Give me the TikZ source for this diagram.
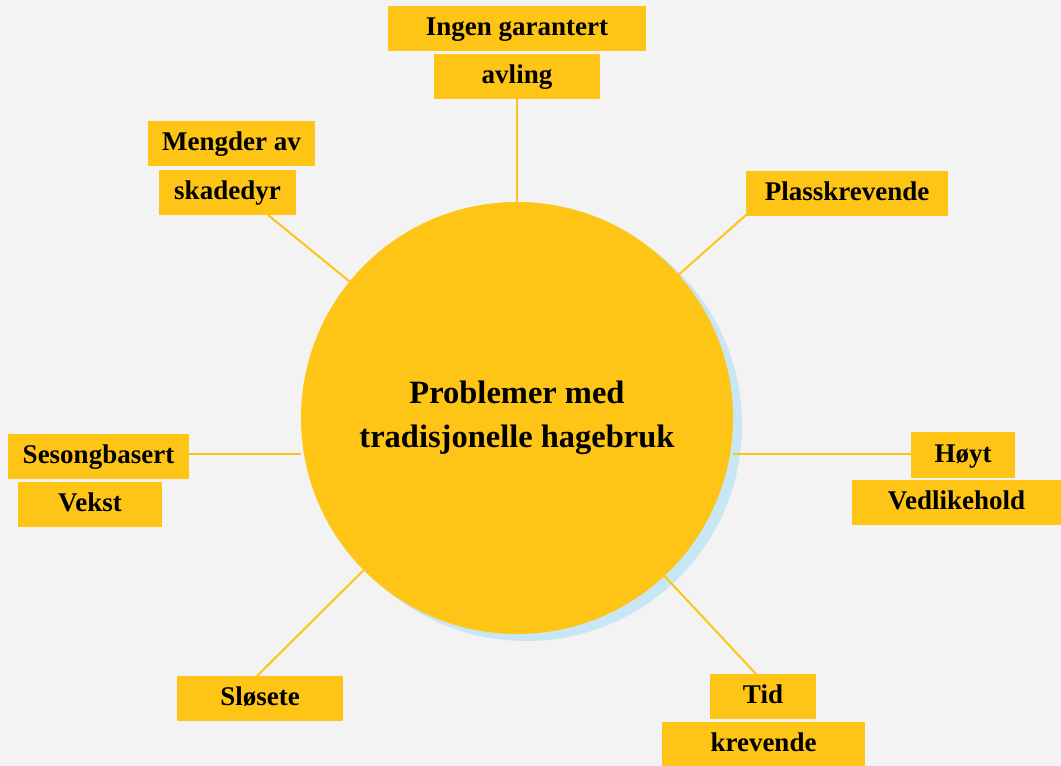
\documentclass[tikz,border=0pt]{standalone}
\usepackage{fontspec}
\setmainfont{Liberation Serif}
\definecolor{bg}{RGB}{242,243,242}
\definecolor{gold}{RGB}{254,196,22}
\definecolor{skyshadow}{RGB}{201,230,245}
\begin{document}
\begin{tikzpicture}[x=1pt,y=-1pt,
  lbl/.style={fill=gold, inner sep=0pt, text=black,
    font=\bfseries\fontsize{27}{30}\selectfont,
    text height=19pt, text depth=5pt, minimum height=45pt},
  link/.style={draw=gold, line width=2pt},
  hub/.style={circle, fill=gold, inner sep=0pt, minimum size=432pt,
    align=center, text=black, font=\bfseries\fontsize{32.5}{44}\selectfont}]
\fill[bg] (0,0) rectangle (1061,766);
\useasboundingbox (0,0) rectangle (1061,766);
% shadow
\fill[skyshadow] (526,425) circle[radius=216];
% labels
\node[lbl, minimum width=258pt] (n1a) at (517,28.5) {Ingen garantert};
\node[lbl, minimum width=166pt] (n1b) at (517,76.5) {avling};
\node[lbl, minimum width=202pt] (n2) at (847,193.5) {Plasskrevende};
\node[lbl, minimum width=104pt, minimum height=46pt] (n3a) at (963,455) {Høyt};
\node[lbl, minimum width=209pt] (n3b) at (956.5,502.5) {Vedlikehold};
\node[lbl, minimum width=106pt] (n4a) at (763,696.5) {Tid};
\node[lbl, minimum width=203pt, minimum height=44pt] (n4b) at (763.5,744) {krevende};
\node[lbl, minimum width=166pt] (n5) at (260,698.5) {Sløsete};
\node[lbl, minimum width=181pt] (n6a) at (98.5,456.5) {Sesongbasert};
\node[lbl, minimum width=144pt] (n6b) at (90,504.5) {Vekst};
\node[lbl, minimum width=167pt] (n7a) at (231.5,143.5) {Mengder av};
\node[lbl, minimum width=137pt] (n7b) at (227.5,192.5) {skadedyr};
% hub
\node[hub] (c) at (517,418) {Problemer med\\tradisjonelle hagebruk};
% connectors
\coordinate (p1) at (517,99);
\coordinate (p2) at (746,215);
\coordinate (p3) at (911,454);
\coordinate (p4) at (756,674);
\coordinate (p5) at (257,676);
\coordinate (p6) at (189,454);
\coordinate (p7) at (268,215);
\draw[link] (p1) -- (c);
\draw[link] (p2) -- (c);
\draw[link] (p3) -- (p3 -| c.east);
\draw[link] (p4) -- (c);
\draw[link] (p5) -- (c);
\draw[link] (p6) -- (p6 -| c.west);
\draw[link] (p7) -- (c);
\end{tikzpicture}
\end{document}
